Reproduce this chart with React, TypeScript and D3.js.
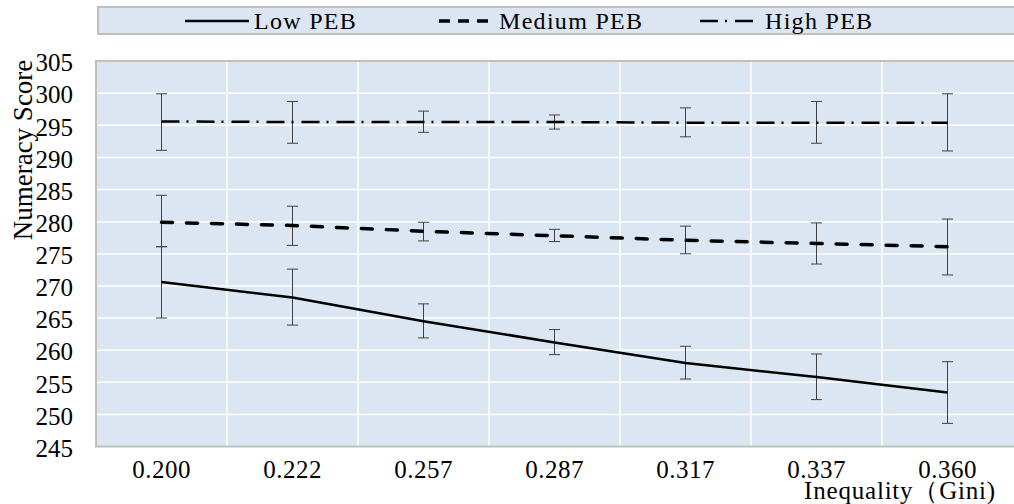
import React, { useRef, useEffect } from 'react';
import * as d3 from 'd3';

const categories = ['0.200', '0.222', '0.257', '0.287', '0.317', '0.337', '0.360'];
const yTicks = [245, 250, 255, 260, 265, 270, 275, 280, 285, 290, 295, 300, 305];

const lowValues = [270.6, 268.2, 264.5, 261.2, 258.0, 255.8, 253.4];
const lowUpper = [276.1, 272.6, 267.2, 263.2, 260.6, 259.4, 258.2];
const lowLower = [265.0, 263.9, 261.9, 259.3, 255.5, 252.3, 248.6];

const medValues = [279.9, 279.4, 278.5, 277.8, 277.1, 276.6, 276.1];
const medUpper = [284.1, 282.4, 279.9, 278.8, 279.3, 279.8, 280.4];
const medLower = [276.1, 276.3, 277.0, 276.9, 275.0, 273.4, 271.7];

const highValues = [295.6, 295.5, 295.5, 295.5, 295.4, 295.4, 295.4];
const highUpper = [299.9, 298.7, 297.2, 296.6, 297.7, 298.7, 299.9];
const highLower = [291.1, 292.2, 293.9, 294.4, 293.2, 292.2, 291.0];

const seriesNames = ['Low PEB', 'Medium PEB', 'High PEB'];

const W = 1014;
const H = 504;
const FONT = 'Liberation Serif';

const App = () => {
  const ref = useRef<SVGSVGElement>(null);

  useEffect(() => {
    const svg = d3.select(ref.current);
    svg.selectAll('*').remove();

    const plot = { left: 96, right: 1013, top: 61, bottom: 446.5 };

    const x = d3.scaleBand<string>().domain(categories).range([plot.left, plot.right]).padding(0);
    const y = d3.scaleLinear().domain([245, 305]).range([plot.bottom, plot.top]);
    const cx = (c: string) => (x(c) as number) + x.bandwidth() / 2;

    // plot background
    svg.append('rect')
      .attr('x', plot.left).attr('y', plot.top)
      .attr('width', W - plot.left).attr('height', plot.bottom - plot.top)
      .attr('fill', '#dce6f2');

    // grid
    svg.append('g').selectAll('line')
      .data(yTicks.slice(1, -1))
      .join('line')
      .attr('x1', plot.left).attr('x2', W)
      .attr('y1', d => y(d)).attr('y2', d => y(d))
      .attr('stroke', '#fff').attr('stroke-width', 1.5);

    svg.append('g').selectAll('line')
      .data(categories.slice(1))
      .join('line')
      .attr('x1', d => x(d) as number).attr('x2', d => x(d) as number)
      .attr('y1', plot.top).attr('y2', plot.bottom)
      .attr('stroke', '#fff').attr('stroke-width', 1.5);

    // borders
    svg.append('path')
      .attr('d', `M${W},${plot.top}H${plot.left}V${plot.bottom}H${W}`)
      .attr('fill', 'none').attr('stroke', '#bfbfbf').attr('stroke-width', 2);

    // y tick labels
    svg.append('g').selectAll('text')
      .data(yTicks)
      .join('text')
      .attr('x', 73).attr('y', d => y(d) + 2)
      .attr('dy', '0.33em')
      .attr('text-anchor', 'end')
      .attr('font-family', FONT).attr('font-size', 25)
      .text(d => d);

    // x tick labels
    svg.append('g').selectAll('text')
      .data(categories)
      .join('text')
      .attr('x', d => cx(d)).attr('y', 478)
      .attr('text-anchor', 'middle')
      .attr('font-family', FONT).attr('font-size', 25)
      .attr('letter-spacing', 0.5)
      .text(d => d);

    // axis titles
    svg.append('text')
      .attr('transform', 'translate(32,150) rotate(-90)')
      .attr('text-anchor', 'middle')
      .attr('font-family', FONT).attr('font-size', 27)
      .text('Numeracy Score');

    svg.append('text')
      .attr('x', 996).attr('y', 499)
      .attr('text-anchor', 'end')
      .attr('font-family', FONT).attr('font-size', 25)
      .attr('letter-spacing', 0.8)
      .text('Inequality（Gini)');

    const series = [
      { vals: lowValues, up: lowUpper, lo: lowLower, dash: null, width: 2.5, cap: 'butt' },
      { vals: medValues, up: medUpper, lo: medLower, dash: '11,14', width: 3.5, cap: 'round' },
      { vals: highValues, up: highUpper, lo: highLower, dash: '18,7,2,8', width: 2.5, cap: 'butt' },
    ];

    const line = d3.line<number>()
      .x((_, i) => cx(categories[i]))
      .y(d => y(d));

    series.forEach(s => {
      // error bars
      const eb = svg.append('g');
      categories.forEach((c, i) => {
        const px = cx(c);
        eb.append('line')
          .attr('x1', px).attr('x2', px)
          .attr('y1', y(s.up[i])).attr('y2', y(s.lo[i]))
          .attr('stroke', '#404040').attr('stroke-width', 1);
        [s.up[i], s.lo[i]].forEach(v => {
          eb.append('line')
            .attr('x1', px - 5.5).attr('x2', px + 5.5)
            .attr('y1', y(v)).attr('y2', y(v))
            .attr('stroke', '#404040').attr('stroke-width', 1);
        });
      });

      svg.append('path')
        .datum(s.vals)
        .attr('d', line)
        .attr('fill', 'none')
        .attr('stroke', '#000')
        .attr('stroke-width', s.width)
        .attr('stroke-dasharray', s.dash)
        .attr('stroke-linecap', s.cap);
    });

    // legend
    const lg = svg.append('g');
    lg.append('rect')
      .attr('x', 98).attr('y', 7)
      .attr('width', W - 98 + 2).attr('height', 27)
      .attr('fill', '#dce6f2').attr('stroke', '#bfbfbf').attr('stroke-width', 2);

    const legendItems = [
      { name: seriesNames[0], x0: 185, x1: 249, dash: null, width: 2.5 },
      { name: seriesNames[1], x0: 439, x1: 494, dash: '11,8', width: 3.5 },
      { name: seriesNames[2], x0: 700, x1: 760, dash: '18,7,2,8', width: 2.5 },
    ];
    legendItems.forEach(it => {
      lg.append('line')
        .attr('x1', it.x0).attr('x2', it.x1)
        .attr('y1', 21).attr('y2', 21)
        .attr('stroke', '#000').attr('stroke-width', it.width)
        .attr('stroke-dasharray', it.dash);
      lg.append('text')
        .attr('x', it.x1 + 5).attr('y', 29)
        .attr('font-family', FONT).attr('font-size', 24)
        .attr('letter-spacing', 1.3)
        .text(it.name);
    });
  }, []);

  return (
    <svg ref={ref} width={W} height={H} style={{ position: 'absolute', left: 0, top: 0, background: '#fff' }} />
  );
};

export default App;
